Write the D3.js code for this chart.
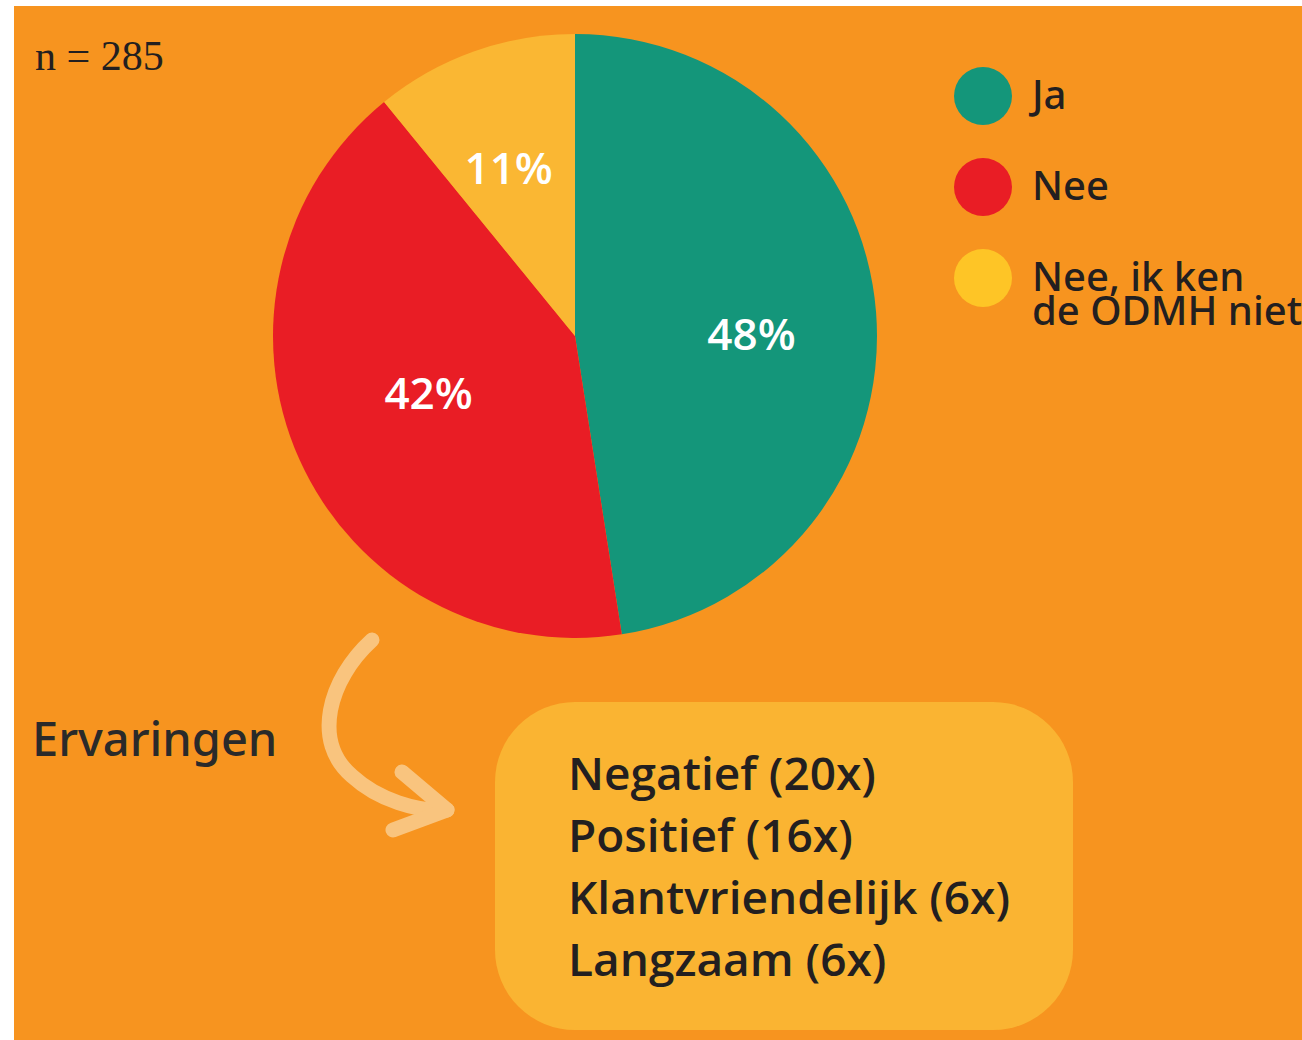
<!DOCTYPE html>
<html>
<head>
<meta charset="utf-8">
<script src="https://cdn.jsdelivr.net/npm/d3@7"></script>
<style>
  html, body { margin: 0; padding: 0; background: #fff; overflow: hidden; }
  svg { display: block; }
</style>
</head>
<body>
<svg id="chart" width="1302" height="1040"></svg>
<script>
// survey answers
const answers = ["Ja", "Nee", "Nee, ik ken de ODMH niet"];
const percentages = [48, 42, 11];
const sliceColors = ["#14967A", "#E91D25", "#FAB733"];
const legendColors = ["#14967A", "#E91D25", "#FEC526"];
const legendLines = [["Ja"], ["Nee"], ["Nee, ik ken", "de ODMH niet"]];
const sampleSize = 285;

// experiences list
const experiences = ["Negatief", "Positief", "Klantvriendelijk", "Langzaam"];
const experienceCounts = [20, 16, 6, 6];

const svg = d3.select("#chart");
const ink = "#231F20";

// orange backdrop (small white margin top/left like the source)
svg.append("rect")
    .attr("x", 14).attr("y", 6)
    .attr("width", 1302 - 14).attr("height", 1040 - 6)
    .attr("fill", "#F7941F");

svg.append("text")
    .attr("x", 35).attr("y", 70)
    .attr("font-family", "'Liberation Serif', 'DejaVu Serif', serif")
    .attr("font-size", 42)
    .attr("fill", ink)
    .text("n = " + sampleSize);

// pie
const cx = 575, cy = 336, radius = 302;
const pie = d3.pie().sort(null).value(d => d);
const arcs = pie(percentages);
const arc = d3.arc().innerRadius(0).outerRadius(radius);
const labelArc = d3.arc().innerRadius(168).outerRadius(168);
// hand placement of the labels relative to the centroid
const labelNudge = [[9, 11], [7, -11], [-10, -10]];

const g = svg.append("g").attr("transform", `translate(${cx},${cy})`);
g.selectAll("path.slice").data(arcs)
    .enter().append("path")
    .attr("class", "slice")
    .attr("d", arc)
    .attr("fill", (d, i) => sliceColors[i]);

g.selectAll("text.pct").data(arcs)
    .enter().append("text")
    .attr("class", "pct")
    .attr("transform", (d, i) => {
        const c = labelArc.centroid(d);
        return `translate(${c[0] + labelNudge[i][0]},${c[1] + labelNudge[i][1]})`;
    })
    .attr("text-anchor", "middle")
    .attr("dy", "0.36em")
    .attr("font-family", "'Open Sans', sans-serif")
    .attr("font-weight", 600)
    .attr("font-size", 44)
    .attr("fill", "#fff")
    .text((d, i) => percentages[i] + "%");

// legend
const legendY = d3.scalePoint().domain(answers).range([96, 278]);
const legend = svg.append("g");
answers.forEach((a, i) => {
    const y = legendY(a);
    legend.append("circle")
        .attr("cx", 983).attr("cy", y).attr("r", 29)
        .attr("fill", legendColors[i]);
    const t = legend.append("text")
        .attr("x", 1032).attr("y", y + 13)
        .attr("font-family", "'Noto Sans', sans-serif")
        .attr("font-weight", 500)
        .attr("font-size", 40)
        .attr("fill", ink);
    legendLines[i].forEach((line, j) => {
        t.append("tspan")
            .attr("x", 1032)
            .attr("dy", j === 0 ? 0 : 34)
            .text(line);
    });
});

// "Ervaringen" heading and arrow
svg.append("text")
    .attr("x", 32).attr("y", 756)
    .attr("font-family", "'Noto Sans', sans-serif")
    .attr("font-weight", 500)
    .attr("font-size", 47)
    .attr("fill", "#2a2a2a")
    .text("Ervaringen");

const arrowColor = "#F9C47E";
svg.append("path")
    .attr("d", "M372,640 C328,680 312,742 352,776 C378,800 418,812 447,810")
    .attr("fill", "none")
    .attr("stroke", arrowColor)
    .attr("stroke-width", 15)
    .attr("stroke-linecap", "round");
svg.append("path")
    .attr("d", "M402,772 L447,810 L393,830")
    .attr("fill", "none")
    .attr("stroke", arrowColor)
    .attr("stroke-width", 15)
    .attr("stroke-linecap", "round")
    .attr("stroke-linejoin", "round");

// box with experiences
svg.append("rect")
    .attr("x", 495).attr("y", 702)
    .attr("width", 578).attr("height", 328)
    .attr("rx", 80).attr("ry", 80)
    .attr("fill", "#FAB432");

const lineY = d3.scalePoint().domain(experiences).range([790, 976]);
svg.selectAll("text.exp").data(experiences)
    .enter().append("text")
    .attr("class", "exp")
    .attr("x", 568)
    .attr("y", d => lineY(d))
    .attr("font-family", "'Open Sans', sans-serif")
    .attr("font-weight", 600)
    .attr("font-size", 46)
    .attr("fill", ink)
    .text((d, i) => `${d} (${experienceCounts[i]}x)`);
</script>
</body>
</html>
